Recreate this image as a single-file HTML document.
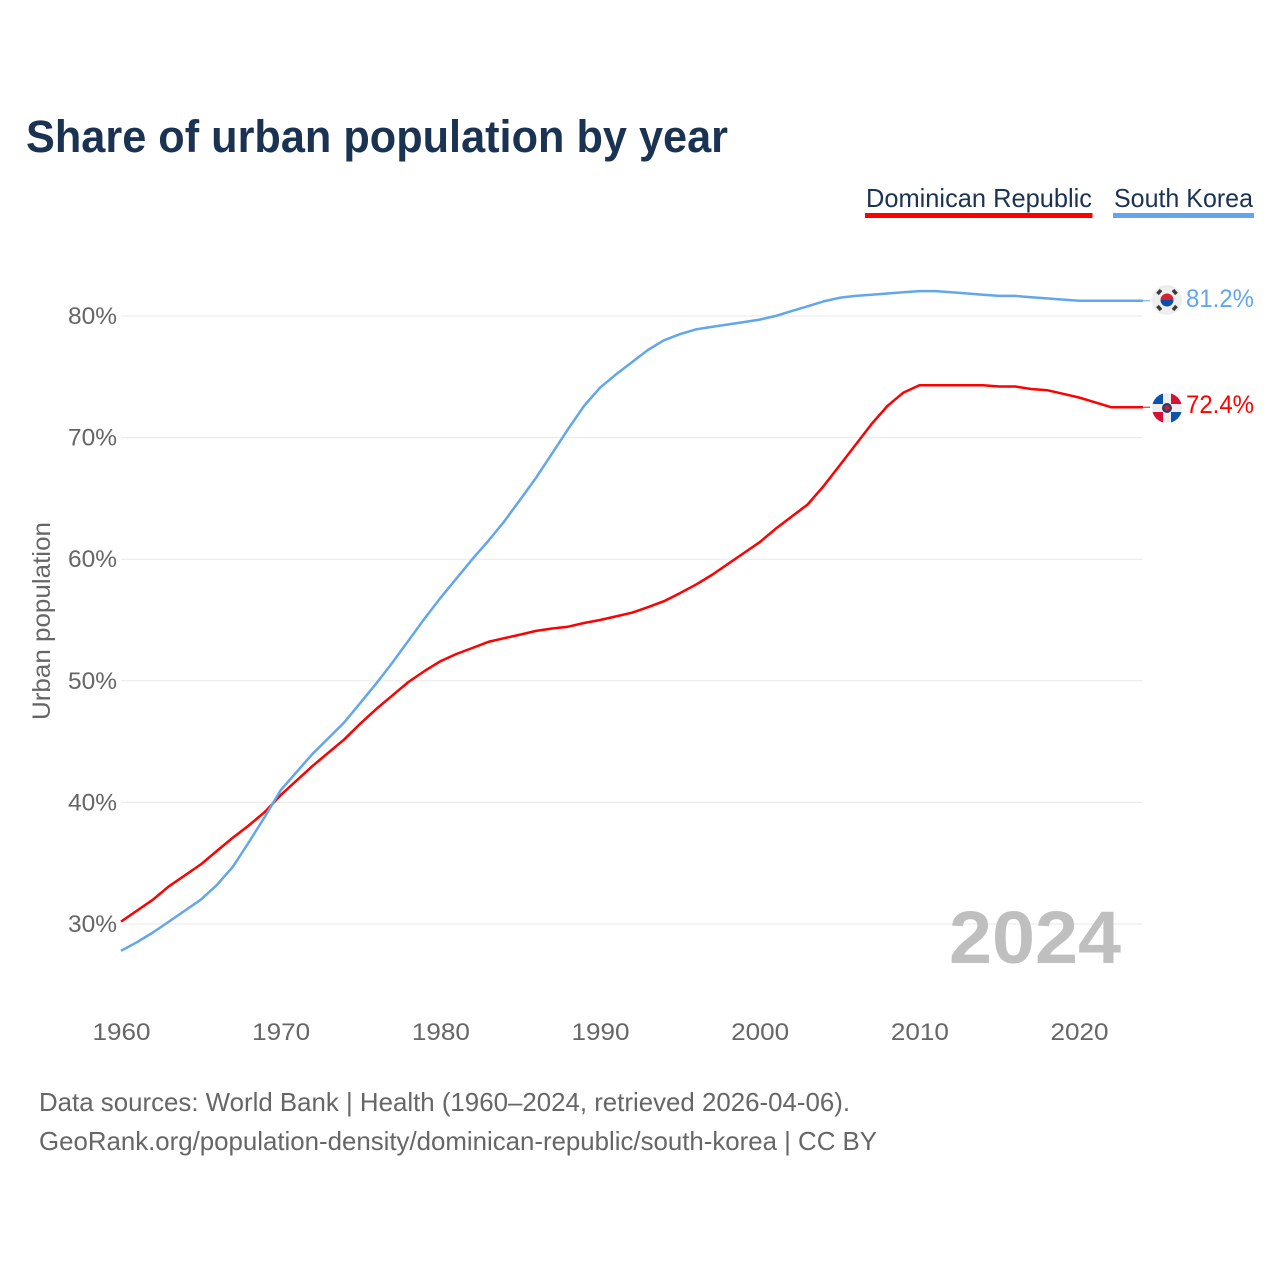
<!DOCTYPE html>
<html lang="en">
<head>
<meta charset="utf-8">
<title>Share of urban population by year</title>
<style>
html,body{margin:0;padding:0;background:#fff;}
svg{display:block;}
text{font-family:"Liberation Sans",sans-serif;}
</style>
</head>
<body>
<svg id="chart" xmlns="http://www.w3.org/2000/svg" width="1280" height="1280" viewBox="0 0 1280 1280">
  <rect x="0" y="0" width="1280" height="1280" fill="#fff"/>
  <text x="26" y="152" font-size="45" font-weight="700" fill="#1a3353" textLength="702" lengthAdjust="spacingAndGlyphs">Share of urban population by year</text>

  <g>
    <text x="866" y="207" font-size="26" fill="#1a3353" textLength="226" lengthAdjust="spacingAndGlyphs">Dominican Republic</text>
    <rect x="865" y="213" width="227.500" height="5" fill="#ff0000"/>
  </g>
  <g>
    <text x="1114" y="207" font-size="26" fill="#1a3353" textLength="139" lengthAdjust="spacingAndGlyphs">South Korea</text>
    <rect x="1113" y="213" width="141" height="5" fill="#62a6ee"/>
  </g>

  <g id="grid"></g>
  <g id="yticks"></g>
  <g id="xticks"></g>

  <text transform="translate(50,720) rotate(-90)" font-size="25" fill="#666666" textLength="198" lengthAdjust="spacingAndGlyphs">Urban population</text>

  <text x="1121" y="963" text-anchor="end" font-size="74" font-weight="700" fill="#bfbfbf" textLength="172" lengthAdjust="spacingAndGlyphs">2024</text>

  <g id="series"></g>

  <defs>
    <clipPath id="clip-dr"><circle cx="1167" cy="408" r="15"/></clipPath>
  </defs>
  <g>
    <circle cx="1167" cy="300" r="15" fill="#eeeeee"/>
    <path d="M1160.500 300a6.500 6.500 0 0 1 13 0z" fill="#d8202f"/>
    <path d="M1160.500 300a6.500 6.500 0 0 0 13 0z" fill="#0a4fa8"/>
    <g stroke="#3a3a3a" stroke-width="3.600" fill="none">
      <path d="M1157.500 294l3.500-4"/>
      <path d="M1173 290l3.500 4"/>
      <path d="M1157.500 306l3.500 4"/>
      <path d="M1173 310l3.500-4"/>
    </g>
  </g>
  <g clip-path="url(#clip-dr)">
    <rect x="1152" y="393" width="30" height="30" fill="#eeeeee"/>
    <rect x="1152" y="393" width="11" height="11" fill="#0a55ab"/>
    <rect x="1171" y="393" width="11" height="11" fill="#d80f34"/>
    <rect x="1152" y="412" width="11" height="11" fill="#d80f34"/>
    <rect x="1171" y="412" width="11" height="11" fill="#0a55ab"/>
    <circle cx="1167" cy="408" r="5" fill="#1f3f6e"/>
    <circle cx="1167" cy="408" r="2.800" fill="#c8202f"/>
  </g>

  <text id="label-sk" x="1254" y="307" text-anchor="end" font-size="25" fill="#62a6ee" textLength="68" lengthAdjust="spacingAndGlyphs">81.2%</text>
  <text id="label-dr" x="1254" y="413" text-anchor="end" font-size="25" fill="#ff0000" textLength="68" lengthAdjust="spacingAndGlyphs">72.4%</text>

  <text x="39" y="1111" font-size="26" fill="#666666" textLength="811" lengthAdjust="spacingAndGlyphs">Data sources: World Bank | Health (1960–2024, retrieved 2026-04-06).</text>
  <text x="39" y="1150" font-size="26" fill="#666666" textLength="838" lengthAdjust="spacingAndGlyphs">GeoRank.org/population-density/dominican-republic/south-korea | CC BY</text>
</svg>
<script>
var startYear = 1960;
var xTickLabels = [1960, 1970, 1980, 1990, 2000, 2010, 2020];
var yTickLabels = [30, 40, 50, 60, 70, 80];
var southKorea = [
  27.8, 28.5, 29.3, 30.2, 31.1, 32.0, 33.2, 34.7, 36.7, 38.8,
  41.0, 42.5, 44.0, 45.3, 46.6, 48.2, 49.8, 51.5, 53.3, 55.1,
  56.8, 58.4, 60.0, 61.5, 63.1, 64.9, 66.7, 68.7, 70.7, 72.6,
  74.1, 75.2, 76.2, 77.2, 78.0, 78.5, 78.9, 79.1, 79.3, 79.5,
  79.7, 80.0, 80.4, 80.8, 81.2, 81.5, 81.65, 81.75, 81.85, 81.95,
  82.05, 82.05, 81.95, 81.85, 81.75, 81.65, 81.65, 81.55, 81.45, 81.35,
  81.25, 81.25, 81.25, 81.25, 81.25
];
var dominicanRepublic = [
  30.2, 31.1, 32.0, 33.1, 34.0, 34.9, 36.0, 37.1, 38.1, 39.2,
  40.6, 41.8, 43.0, 44.1, 45.2, 46.5, 47.7, 48.8, 49.9, 50.8,
  51.6, 52.2, 52.7, 53.2, 53.5, 53.8, 54.1, 54.3, 54.45, 54.75,
  55.0, 55.3, 55.6, 56.05, 56.55, 57.2, 57.9, 58.7, 59.6, 60.5,
  61.4, 62.5, 63.5, 64.5, 66.0, 67.7, 69.4, 71.1, 72.6, 73.7,
  74.3, 74.3, 74.3, 74.3, 74.3, 74.2, 74.2, 74.0, 73.9, 73.6,
  73.3, 72.9, 72.5, 72.5, 72.5
];

function xScale(year) { return 121 + (year - 1960) * 15.967; }
function yScale(pct) { return 316 + (80 - pct) * 12.16; }

var NS = 'http://www.w3.org/2000/svg';
var grid = document.getElementById('grid');
var yticks = document.getElementById('yticks');
var xticks = document.getElementById('xticks');
var seriesGroup = document.getElementById('series');

yTickLabels.forEach(function (v) {
  var line = document.createElementNS(NS, 'line');
  
  
  line.setAttribute('x1', 121);
  line.setAttribute('x2', 1142);
  line.setAttribute('y1', yScale(v));
  line.setAttribute('y2', yScale(v));
  line.setAttribute('stroke', '#e8e8e8');
  line.setAttribute('stroke-width', 1);
  grid.appendChild(line);

  var t = document.createElementNS(NS, 'text');
  
  
  t.setAttribute('x', 117);
  t.setAttribute('y', yScale(v) + 8);
  t.setAttribute('text-anchor', 'end');
  t.setAttribute('font-size', 24);
  t.setAttribute('fill', '#666666');
  t.setAttribute('textLength', 49);
  t.setAttribute('lengthAdjust', 'spacingAndGlyphs');
  t.textContent = v + '%';
  yticks.appendChild(t);
});

xTickLabels.forEach(function (yr) {
  var t = document.createElementNS(NS, 'text');
  
  
  t.setAttribute('x', xScale(yr) + 0.500);
  t.setAttribute('y', 1040);
  t.setAttribute('text-anchor', 'middle');
  t.setAttribute('font-size', 24);
  t.setAttribute('fill', '#666666');
  t.setAttribute('textLength', 58);
  t.setAttribute('lengthAdjust', 'spacingAndGlyphs');
  t.textContent = String(yr);
  xticks.appendChild(t);
});

function buildPoints(values) {
  return values.map(function (v, i) {
    return xScale(startYear + i).toFixed(1) + ',' + yScale(v).toFixed(1);
  }).join(' ');
}

var lineDr = document.createElementNS(NS, 'polyline');


lineDr.setAttribute('points', buildPoints(dominicanRepublic));
lineDr.setAttribute('fill', 'none');
lineDr.setAttribute('stroke', '#ff0000');
lineDr.setAttribute('stroke-width', 2.500);
lineDr.setAttribute('stroke-linejoin', 'round');
seriesGroup.appendChild(lineDr);

var lineSk = document.createElementNS(NS, 'polyline');


lineSk.setAttribute('points', buildPoints(southKorea));
lineSk.setAttribute('fill', 'none');
lineSk.setAttribute('stroke', '#62a6ee');
lineSk.setAttribute('stroke-width', 2.500);
lineSk.setAttribute('stroke-linejoin', 'round');
seriesGroup.appendChild(lineSk);

var connDr = document.createElementNS(NS, 'line');


connDr.setAttribute('x1', xScale(2024));
connDr.setAttribute('x2', 1150);
connDr.setAttribute('y1', yScale(dominicanRepublic[dominicanRepublic.length - 1]));
connDr.setAttribute('y2', yScale(dominicanRepublic[dominicanRepublic.length - 1]));
connDr.setAttribute('stroke', '#ff0000');
connDr.setAttribute('stroke-width', 1);
seriesGroup.appendChild(connDr);

var connSk = document.createElementNS(NS, 'line');


connSk.setAttribute('x1', xScale(2024));
connSk.setAttribute('x2', 1150);
connSk.setAttribute('y1', yScale(southKorea[southKorea.length - 1]));
connSk.setAttribute('y2', yScale(southKorea[southKorea.length - 1]));
connSk.setAttribute('stroke', '#62a6ee');
connSk.setAttribute('stroke-width', 1);
seriesGroup.appendChild(connSk);
</script>
</body>
</html>
